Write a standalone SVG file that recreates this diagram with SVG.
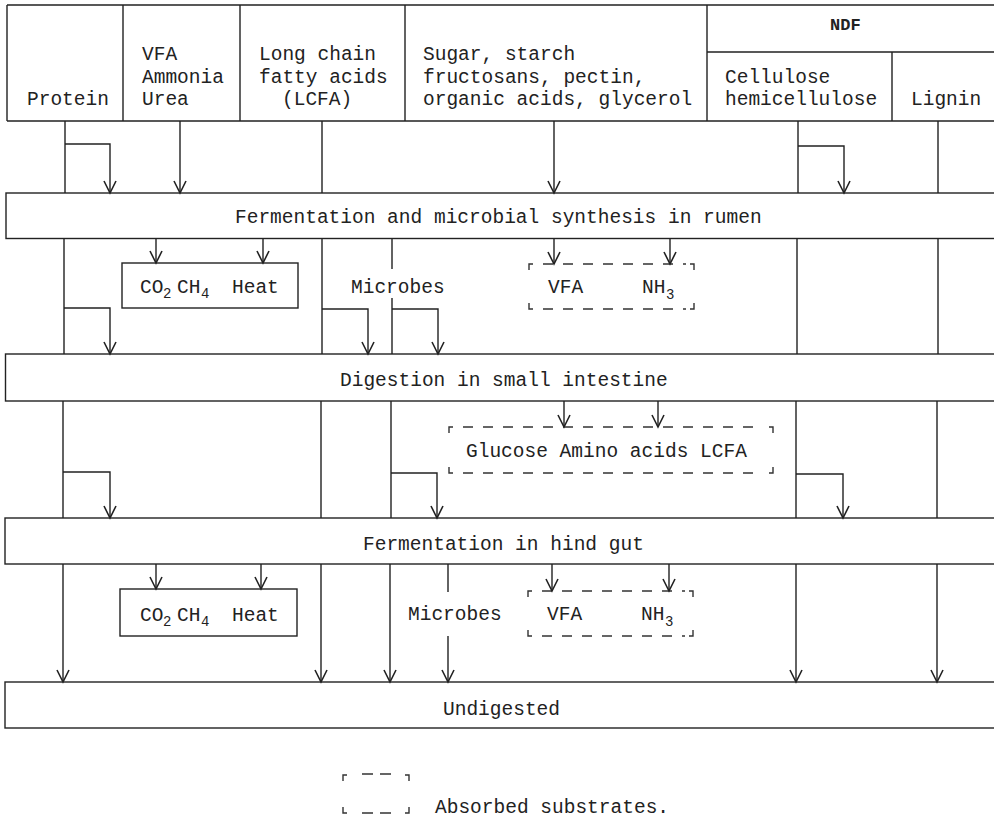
<svg xmlns="http://www.w3.org/2000/svg" width="994" height="832" viewBox="0 0 994 832">
<style>
.t{font-family:"Liberation Mono","Courier New",monospace;font-size:19.5px;fill:#222}
.s{font-size:14px}
.ln{stroke:#222;stroke-width:1.4;fill:none}
.bx{stroke:#222;stroke-width:1.4;fill:#fff}
.dash{stroke:#333;stroke-width:1.4;fill:none;stroke-dasharray:10 10}
.cor{stroke:#333;stroke-width:1.4;fill:none}
.ar{marker-end:url(#ah)}
</style>
<defs>
<marker id="ah" markerUnits="userSpaceOnUse" markerWidth="16" markerHeight="16" viewBox="-14 -8 16 16" refX="0" refY="0" orient="auto">
<path d="M-12,-6 L0,0 L-12,6" fill="none" stroke="#222" stroke-width="1.6"/>
</marker>
</defs>
<rect width="994" height="832" fill="#fff"/>

<g id="header">
<path class="ln" d="M7,5 H994 M7,121 H994 M7,5 V121 M123,5 V121 M240,5 V121 M405,5 V121 M707,5 V121 M707,52 H994 M892,52 V121"/>
<g id="protein"><text class="t" x="27" y="105">Protein</text></g>
<g id="vfa-ammonia-urea"><text class="t" x="142" y="60">VFA</text><text class="t" x="142" y="82.5">Ammonia</text><text class="t" x="142" y="105">Urea</text></g>
<g id="lcfa"><text class="t" x="259" y="60">Long chain</text><text class="t" x="259" y="82.5">fatty acids</text><text class="t" x="282" y="105">(LCFA)</text></g>
<g id="sugar"><text class="t" x="423" y="60">Sugar, starch</text><text class="t" x="423" y="82.5">fructosans, pectin,</text><text class="t" x="423" y="105">organic acids, glycerol</text></g>
<g id="ndf"><text class="t" x="830" y="30" style="font-size:17px;font-weight:600">NDF</text></g>
<g id="cellulose"><text class="t" x="725" y="83">Cellulose</text><text class="t" x="725" y="105">hemicellulose</text></g>
<g id="lignin"><text class="t" x="911" y="105">Lignin</text></g>
</g>

<g id="band-rumen"><rect class="bx" x="6" y="193" width="1000" height="45.5"/><text class="t" x="235" y="223">Fermentation and microbial synthesis in rumen</text></g>
<g id="band-small-intestine"><rect class="bx" x="5.5" y="354" width="1000" height="47"/><text class="t" x="340" y="386">Digestion in small intestine</text></g>
<g id="band-hind-gut"><rect class="bx" x="5" y="518" width="1000" height="46"/><text class="t" x="363" y="550">Fermentation in hind gut</text></g>
<g id="band-undigested"><rect class="bx" x="5" y="682" width="1000" height="46"/><text class="t" x="443" y="715">Undigested</text></g>

<g id="gas-rumen"><rect class="bx" x="122" y="263" width="176" height="45"/><text class="t" x="140" y="293">CO<tspan class="s" x="163" dy="5">2</tspan><tspan x="177" dy="-5">CH</tspan><tspan class="s" x="201" dy="5">4</tspan><tspan x="232" dy="-5">Heat</tspan></text></g>
<g id="microbes-rumen"><text class="t" x="351" y="293">Microbes</text></g>
<g id="absorbed-rumen">
<path class="cor" d="M529,270 V264 H533 M690,264 H694 V270 M529,303 V309 H533 M690,309 H694 V303"/>
<path class="dash" d="M543,264 H686 M543,309 H686"/>
<text class="t" x="548" y="293">VFA</text><text class="t" x="642" y="293">NH<tspan class="s" x="666" dy="6">3</tspan></text>
</g>

<g id="absorbed-small-intestine">
<path class="cor" d="M449,433 V427 H453 M769,427 H773 V433 M449,467 V473 H453 M769,473 H773 V467"/>
<path class="dash" d="M463,427 H762 M463,473 H762"/>
<text class="t" x="466" y="457">Glucose Amino acids LCFA</text>
</g>

<g id="gas-hind-gut"><rect class="bx" x="120" y="589" width="177" height="47"/><text class="t" x="140" y="621">CO<tspan class="s" x="163" dy="5">2</tspan><tspan x="177" dy="-5">CH</tspan><tspan class="s" x="201" dy="5">4</tspan><tspan x="232" dy="-5">Heat</tspan></text></g>
<g id="microbes-hind-gut"><text class="t" x="408" y="620">Microbes</text></g>
<g id="absorbed-hind-gut">
<path class="cor" d="M528,597 V591 H532 M689,591 H693 V597 M528,630 V636 H532 M689,636 H693 V630"/>
<path class="dash" d="M542,591 H685 M542,636 H685"/>
<text class="t" x="547" y="620">VFA</text><text class="t" x="641" y="620">NH<tspan class="s" x="665" dy="6">3</tspan></text>
</g>

<g id="connectors">
<path class="ln" d="M65,121 V193 M322,121 V193 M798,121 V193 M938,121 V193"/>
<path class="ln ar" d="M65,144 H110 V193"/>
<path class="ln ar" d="M180,121 V193"/>
<path class="ln ar" d="M554,121 V193"/>
<path class="ln ar" d="M798,146 H844 V193"/>

<path class="ln" d="M64,239 V354 M322,239 V354 M392,239 V269 M392,298 V354 M797,239 V354 M938,239 V354"/>
<path class="ln ar" d="M64,308 H110 V354"/>
<path class="ln ar" d="M156,239 V263"/>
<path class="ln ar" d="M263,239 V263"/>
<path class="ln ar" d="M322,309 H368 V354"/>
<path class="ln ar" d="M392,309 H438 V354"/>
<path class="ln ar" d="M554,239 V264"/>
<path class="ln ar" d="M670,239 V264"/>

<path class="ln" d="M63,401 V518 M321,401 V518 M391,401 V518 M796,401 V518 M937,401 V518"/>
<path class="ln ar" d="M63,472 H110 V518"/>
<path class="ln ar" d="M391,473 H437 V518"/>
<path class="ln ar" d="M564,401 V427"/>
<path class="ln ar" d="M658,401 V427"/>
<path class="ln ar" d="M796,474 H843 V518"/>

<path class="ln ar" d="M63,564 V682"/>
<path class="ln ar" d="M156,564 V589"/>
<path class="ln ar" d="M261,564 V589"/>
<path class="ln ar" d="M321,564 V682"/>
<path class="ln ar" d="M390,564 V682"/>
<path class="ln" d="M448,564 V592"/>
<path class="ln ar" d="M448,636 V682"/>
<path class="ln ar" d="M552,564 V591"/>
<path class="ln ar" d="M669,564 V591"/>
<path class="ln ar" d="M796,564 V682"/>
<path class="ln ar" d="M937,564 V682"/>
</g>

<g id="legend">
<path class="cor" d="M343,781 V775 H347 M405,775 H409 V781 M343,807 V813 H347 M405,813 H409 V807"/>
<path class="cor" d="M362,774 H373 M380,774 H391 M362,813 H373 M380,813 H391"/>
<text class="t" x="435" y="813">Absorbed substrates.</text>
</g>
</svg>
